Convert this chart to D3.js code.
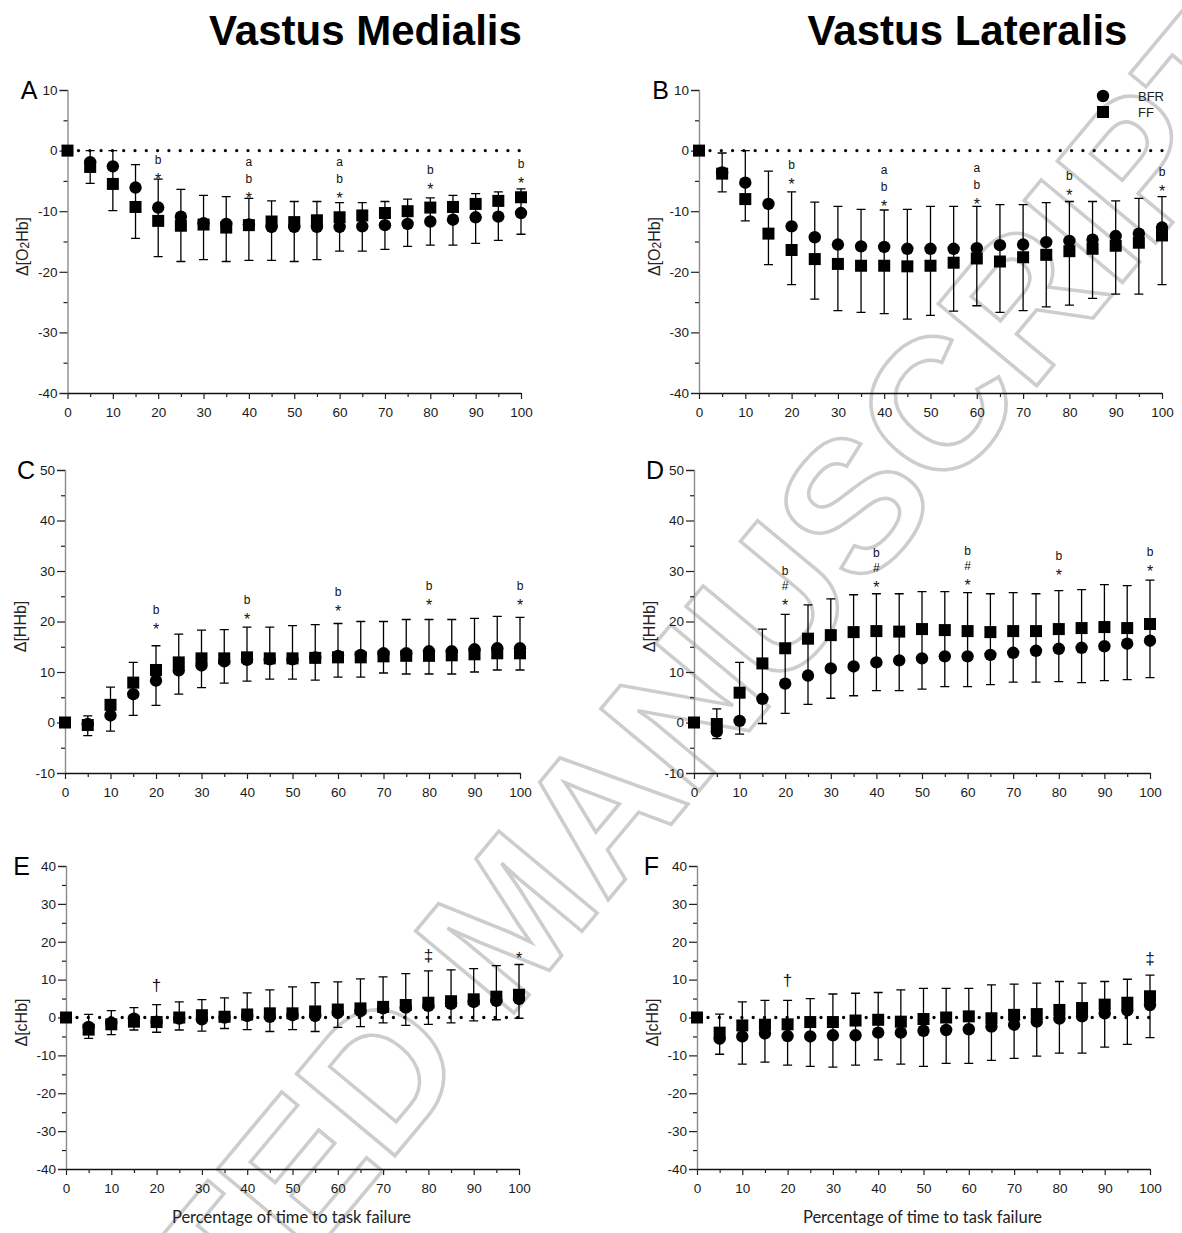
<!DOCTYPE html>
<html>
<head>
<meta charset="utf-8">
<script src="https://cdn.jsdelivr.net/npm/d3@7"></script>
<style>
  body { margin: 0; background: #fff; }
  text { font-family: "Liberation Sans", Arial, sans-serif; }
</style>
</head>
<body>
<svg id="chart" width="1182" height="1233"></svg>
<script>
// Percentage of time to task failure
const pct = [0, 5, 10, 15, 20, 25, 30, 35, 40, 45, 50, 55, 60, 65, 70, 75, 80, 85, 90, 95, 100];

// A - vastus medialis, O2Hb
const aBfr = [0, -1.9, -2.6, -6.1, -9.4, -10.9, -12.0, -12.1, -12.2, -12.6, -12.6, -12.6, -12.6, -12.5, -12.3, -12.1, -11.7, -11.4, -11.0, -10.9, -10.3];
const aFf = [0, -2.7, -5.5, -9.3, -11.6, -12.4, -12.2, -12.7, -12.3, -11.7, -11.8, -11.5, -11.0, -10.7, -10.3, -10.0, -9.4, -9.3, -8.8, -8.3, -7.7];
const aErrHi = [null, 0, 0, -2.3, -4.7, -6.4, -7.4, -7.6, -7.9, -8.3, -8.4, -8.4, -8.6, -8.6, -8.4, -8.0, -7.8, -7.4, -7.1, -6.8, -6.3];
const aErrLo = [null, -5.4, -9.9, -14.5, -17.5, -18.3, -18.0, -18.3, -18.1, -18.1, -18.3, -18.0, -16.6, -16.6, -16.3, -15.8, -15.6, -15.6, -15.3, -14.8, -13.8];
const aNotes = [
  { x: 20, y: -4.1, marks: ['*', 'b'] },
  { x: 40, y: -7.2, marks: ['*', 'b', 'a'] },
  { x: 60, y: -7.2, marks: ['*', 'b', 'a'] },
  { x: 80, y: -5.8, marks: ['*', 'b'] },
  { x: 100, y: -4.7, marks: ['*', 'b'] },
];

// B - vastus lateralis, O2Hb
const bBfr = [0, -3.6, -5.3, -8.8, -12.5, -14.3, -15.5, -15.8, -15.9, -16.2, -16.2, -16.2, -16.1, -15.6, -15.5, -15.1, -14.9, -14.7, -14.1, -13.7, -12.7];
const bFf = [0, -3.8, -8.0, -13.7, -16.4, -17.9, -18.7, -19.0, -19.0, -19.1, -19.0, -18.5, -17.8, -18.3, -17.6, -17.2, -16.6, -16.2, -15.7, -15.2, -14.0];
const bErrHi = [null, -0.4, 0, -3.4, -6.8, -8.5, -9.2, -9.7, -9.8, -9.7, -9.2, -9.2, -9.2, -8.9, -8.9, -8.6, -8.4, -8.4, -8.3, -7.9, -7.6];
const bErrLo = [null, -6.8, -11.6, -18.8, -22.1, -24.5, -26.4, -26.7, -26.9, -27.8, -27.2, -26.5, -25.6, -26.7, -26.4, -25.8, -25.5, -24.4, -23.7, -23.7, -22.1];
const bNotes = [
  { x: 20, y: -4.9, marks: ['*', 'b'] },
  { x: 40, y: -8.5, marks: ['*', 'b', 'a'] },
  { x: 60, y: -8.2, marks: ['*', 'b', 'a'] },
  { x: 80, y: -6.8, marks: ['*', 'b'] },
  { x: 100, y: -6.0, marks: ['*', 'b'] },
];

// C - vastus medialis, HHb
const cBfr = [0, -0.3, 1.4, 5.6, 8.3, 10.3, 11.3, 12.1, 12.4, 12.5, 12.5, 12.9, 13.2, 13.4, 13.7, 13.7, 14.1, 14.1, 14.5, 14.7, 14.7];
const cFf = [0, -0.5, 3.5, 7.9, 10.4, 11.9, 12.7, 12.7, 12.9, 12.7, 12.7, 12.8, 12.9, 12.9, 13.1, 13.2, 13.2, 13.3, 13.5, 13.7, 13.7];
const cErrHi = [null, 1.3, 7.0, 11.9, 15.2, 17.5, 18.3, 18.4, 18.9, 18.9, 19.2, 19.4, 19.6, 20.0, 20.0, 20.4, 20.4, 20.4, 20.6, 21.0, 20.8];
const cErrLo = [null, -2.6, -1.7, 1.4, 3.4, 5.6, 6.9, 7.8, 8.2, 8.6, 8.6, 8.4, 9.0, 9.0, 9.8, 9.6, 9.6, 9.6, 10.0, 10.4, 10.4];
const cNotes = [
  { x: 20, y: 19.2, marks: ['*', 'b'] },
  { x: 40, y: 21.2, marks: ['*', 'b'] },
  { x: 60, y: 22.7, marks: ['*', 'b'] },
  { x: 80, y: 23.9, marks: ['*', 'b'] },
  { x: 100, y: 23.9, marks: ['*', 'b'] },
];

// D - vastus lateralis, HHb
const dBfr = [0, -1.8, 0.3, 4.7, 7.7, 9.3, 10.7, 11.1, 11.9, 12.3, 12.7, 13.1, 13.1, 13.4, 13.8, 14.2, 14.6, 14.8, 15.1, 15.6, 16.2];
const dFf = [0, -0.3, 5.9, 11.7, 14.7, 16.6, 17.3, 17.9, 18.1, 18.0, 18.5, 18.3, 18.1, 17.9, 18.1, 18.1, 18.5, 18.7, 18.9, 18.7, 19.5];
const dErrHi = [null, 2.7, 11.9, 18.5, 21.4, 23.3, 24.5, 25.3, 25.5, 25.5, 25.9, 25.9, 25.7, 25.5, 25.7, 25.5, 26.1, 26.3, 27.3, 27.1, 28.2];
const dErrLo = [null, -3.2, -2.3, -0.2, 1.8, 3.6, 4.8, 5.3, 6.3, 6.3, 6.6, 7.1, 7.1, 7.5, 8.0, 8.0, 8.1, 7.9, 8.3, 8.5, 8.9];
const dNotes = [
  { x: 20, y: 23.9, marks: ['*', '#', 'b'] },
  { x: 40, y: 27.5, marks: ['*', '#', 'b'] },
  { x: 60, y: 27.9, marks: ['*', '#', 'b'] },
  { x: 80, y: 30.0, marks: ['*', 'b'] },
  { x: 100, y: 30.8, marks: ['*', 'b'] },
];

// E - vastus medialis, cHb
const eBfr = [0, -2.5, -1.4, -0.3, -1.1, -0.3, -0.5, 0.0, 0.4, 0.2, 0.6, 0.4, 1.2, 1.7, 2.4, 2.6, 3.1, 3.6, 4.1, 4.4, 4.9];
const eFf = [0, -3.2, -1.8, -1.1, -1.2, 0.0, 0.6, 0.2, 0.8, 1.1, 1.1, 1.6, 2.1, 2.4, 2.8, 3.3, 3.9, 4.3, 4.8, 5.5, 6.0];
const eErrHi = [null, 0.8, 1.8, 2.6, 3.4, 4.1, 4.7, 5.2, 6.5, 7.3, 8.1, 9.2, 9.4, 10.2, 10.7, 11.6, 12.3, 12.6, 12.9, 13.7, 14.0];
const eErrLo = [null, -5.5, -4.5, -3.3, -3.9, -3.3, -3.6, -2.9, -3.2, -3.7, -3.2, -3.7, -2.6, -2.4, -1.4, -2.1, -1.8, -1.4, -0.9, -0.6, -0.2];
const eNotes = [
  { x: 20, y: 8.4, marks: ['†'] },
  { x: 80, y: 16.3, marks: ['‡'] },
  { x: 100, y: 16.7, marks: ['*'] },
];

// F - vastus lateralis, cHb
const fBfr = [0, -5.6, -5.0, -4.2, -4.9, -5.0, -4.7, -4.7, -4.0, -4.0, -3.5, -3.3, -3.1, -2.4, -1.9, -1.1, -0.3, 0.3, 1.1, 1.9, 3.3];
const fFf = [0, -4.0, -2.1, -1.9, -1.8, -1.2, -1.2, -0.8, -0.6, -1.1, -0.4, 0.0, 0.3, -0.2, 0.7, 0.9, 2.0, 2.5, 3.4, 3.9, 5.6];
const fErrHi = [null, 0.9, 4.1, 4.5, 4.5, 5.0, 6.2, 6.4, 6.6, 7.3, 7.7, 7.7, 7.7, 8.6, 8.8, 9.1, 9.5, 9.1, 9.5, 10.1, 11.2];
const fErrLo = [null, -9.7, -12.3, -11.8, -12.6, -12.9, -13.1, -12.6, -11.2, -12.3, -12.9, -12.1, -12.1, -11.3, -10.8, -10.2, -9.4, -9.4, -7.8, -7.1, -5.3];
const fNotes = [
  { x: 20, y: 9.7, marks: ['†'] },
  { x: 100, y: 15.5, marks: ['‡'] },
];

const columnTitles = ['Vastus Medialis', 'Vastus Lateralis'];
const xTitle = 'Percentage of time to task failure';
const legendItems = ['BFR', 'FF'];

// Layout
const MARKER_R = 6.2;
const SQUARE = 12;
const CAP = 4.5;
const NOTE_STEP = 15.7;

const panels = [
  { letter: 'A', bfr: aBfr, ff: aFf, hi: aErrHi, lo: aErrLo, notes: aNotes, yLabel: ['Δ[O', '2', 'Hb]'],
    yDomain: [-40, 10], x0: 67.5, x1: 521, yTop: 90, yBottom: 393, zero: true, letterGap: 30 },
  { letter: 'B', bfr: bBfr, ff: bFf, hi: bErrHi, lo: bErrLo, notes: bNotes, yLabel: ['Δ[O', '2', 'Hb]'],
    yDomain: [-40, 10], x0: 699, x1: 1162, yTop: 90, yBottom: 393, zero: true, letterGap: 30, legend: true },
  { letter: 'C', bfr: cBfr, ff: cFf, hi: cErrHi, lo: cErrLo, notes: cNotes, yLabel: ['Δ[HHb]'],
    yDomain: [-10, 50], x0: 65, x1: 520, yTop: 470, yBottom: 773, zero: false, letterGap: 30 },
  { letter: 'D', bfr: dBfr, ff: dFf, hi: dErrHi, lo: dErrLo, notes: dNotes, yLabel: ['Δ[HHb]'],
    yDomain: [-10, 50], x0: 694, x1: 1150, yTop: 470, yBottom: 773, zero: false, letterGap: 30 },
  { letter: 'E', bfr: eBfr, ff: eFf, hi: eErrHi, lo: eErrLo, notes: eNotes, yLabel: ['Δ[cHb]'],
    yDomain: [-40, 40], x0: 66, x1: 519, yTop: 866, yBottom: 1169, zero: true, letterGap: 36, xTitle: true },
  { letter: 'F', bfr: fBfr, ff: fFf, hi: fErrHi, lo: fErrLo, notes: fNotes, yLabel: ['Δ[cHb]'],
    yDomain: [-40, 40], x0: 697, x1: 1150, yTop: 866, yBottom: 1169, zero: true, letterGap: 38, xTitle: true },
];

const svg = d3.select('#chart');

// faint "accepted manuscript" stamp behind everything
svg.append('text')
  .attr('transform', 'translate(559, 959) rotate(-50.2)')
  .attr('text-anchor', 'middle')
  .attr('font-size', 186)
  .attr('font-weight', 'bold')
  .attr('fill', 'none')
  .attr('stroke', '#cdcdcd')
  .attr('stroke-width', 3.5)
  .text('ACCEPTED MANUSCRIPT');

// column titles
svg.selectAll('text.col-title')
  .data(columnTitles)
  .enter()
  .append('text')
  .attr('class', 'col-title')
  .attr('x', (d, i) => (i === 0 ? 365.5 : 967.5))
  .attr('y', 45)
  .attr('text-anchor', 'middle')
  .attr('font-size', 42)
  .attr('font-weight', 'bold')
  .text(d => d);

const noteShift = { '*': 0.6, 'b': 0.36, 'a': 0.26, '#': 0.36, '†': 0.3, '‡': 0.3 };
const noteSize = { '*': 16, 'b': 12, 'a': 12, '#': 12, '†': 17, '‡': 17 };

const drawPanel = (p) => {
  const sx = d3.scaleLinear().domain([0, 100]).range([p.x0, p.x1]);
  const sy = d3.scaleLinear().domain(p.yDomain).range([p.yBottom, p.yTop]);
  const g = svg.append('g');

  const majorY = d3.range(p.yDomain[0], p.yDomain[1] + 1, 10);
  const minorY = d3.range(p.yDomain[0] + 5, p.yDomain[1], 10);
  const majorX = d3.range(0, 101, 10);
  const minorX = d3.range(5, 100, 10);

  // y axis
  const yAxis = g.append('g')
    .attr('transform', `translate(${p.x0}, 0)`)
    .call(d3.axisLeft(sy).tickValues(majorY).tickSize(8).tickPadding(2).tickFormat(d => String(d)));
  yAxis.select('.domain').attr('stroke', '#8c8c8c').attr('stroke-width', 1.4);
  g.append('g')
    .attr('transform', `translate(${p.x0}, 0)`)
    .call(d3.axisLeft(sy).tickValues(minorY).tickSize(4).tickFormat(''))
    .select('.domain').remove();

  // x axis
  const xAxis = g.append('g')
    .attr('transform', `translate(0, ${p.yBottom})`)
    .call(d3.axisBottom(sx).tickValues(majorX).tickSize(6).tickPadding(8).tickSizeOuter(0));
  xAxis.select('.domain').attr('stroke', '#111').attr('stroke-width', 1.3);
  g.append('g')
    .attr('transform', `translate(0, ${p.yBottom})`)
    .call(d3.axisBottom(sx).tickValues(minorX).tickSize(4).tickFormat(''))
    .select('.domain').remove();

  g.selectAll('.tick line').attr('stroke', '#222').attr('stroke-width', 1.2);
  g.selectAll('.tick text')
    .attr('font-size', 13.5)
    .attr('fill', '#1a1a1a')
    .style('font-family', '"Liberation Sans", Arial, sans-serif');

  // panel letter
  g.append('text')
    .attr('x', p.x0 - p.letterGap)
    .attr('y', p.yTop + 8.5)
    .attr('text-anchor', 'end')
    .attr('font-size', 25)
    .text(p.letter);

  // y label
  const yl = g.append('text')
    .attr('transform', `translate(${p.x0 - 45}, ${(p.yTop + p.yBottom) / 2 + 5}) rotate(-90)`)
    .attr('text-anchor', 'middle')
    .attr('dy', '0.35em')
    .attr('font-size', 16)
    .attr('fill', '#222');
  p.yLabel.forEach((part, i) => {
    const t = yl.append('tspan').text(part);
    if (part === '2') t.attr('font-size', 12).attr('dy', 1);
    else if (i > 0) t.attr('dy', -1);
  });

  // dotted zero line
  if (p.zero) {
    g.append('line')
      .attr('x1', sx(0) + 11)
      .attr('x2', sx(100))
      .attr('y1', sy(0))
      .attr('y2', sy(0))
      .attr('stroke', '#000')
      .attr('stroke-width', 3.3)
      .attr('stroke-linecap', 'round')
      .attr('stroke-dasharray', '0 11.3');
  }

  // error bars
  const bars = pct.map((x, i) => ({ x, hi: p.hi[i], lo: p.lo[i] })).filter(d => d.hi !== null);
  g.append('g')
    .selectAll('path')
    .data(bars)
    .enter()
    .append('path')
    .attr('d', d => {
      const cx = sx(d.x);
      const yh = sy(d.hi);
      const yl2 = sy(d.lo);
      return `M${cx},${yh}V${yl2}M${cx - CAP},${yh}H${cx + CAP}M${cx - CAP},${yl2}H${cx + CAP}`;
    })
    .attr('fill', 'none')
    .attr('stroke', '#000')
    .attr('stroke-width', 1.3);

  // FF squares
  g.append('g')
    .selectAll('rect')
    .data(pct.map((x, i) => ({ x, v: p.ff[i] })))
    .enter()
    .append('rect')
    .attr('x', d => sx(d.x) - SQUARE / 2)
    .attr('y', d => sy(d.v) - SQUARE / 2)
    .attr('width', SQUARE)
    .attr('height', SQUARE)
    .attr('fill', '#000');

  // BFR circles
  g.append('g')
    .selectAll('circle')
    .data(pct.map((x, i) => ({ x, v: p.bfr[i] })).filter(d => d.x > 0))
    .enter()
    .append('circle')
    .attr('cx', d => sx(d.x))
    .attr('cy', d => sy(d.v))
    .attr('r', MARKER_R)
    .attr('fill', '#000');

  // significance marks, stacked upward from the lowest one
  p.notes.forEach(n => {
    n.marks.forEach((m, k) => {
      const cy = sy(n.y) - k * NOTE_STEP;
      g.append('text')
        .attr('x', sx(n.x))
        .attr('y', cy + noteShift[m] * noteSize[m])
        .attr('text-anchor', 'middle')
        .attr('font-size', noteSize[m])
        .attr('fill', '#111')
        .text(m);
    });
  });

  if (p.legend) {
    const lg = g.append('g');
    lg.append('circle').attr('cx', 1103).attr('cy', 96).attr('r', MARKER_R).attr('fill', '#000');
    lg.append('rect').attr('x', 1103 - SQUARE / 2).attr('y', 112 - SQUARE / 2)
      .attr('width', SQUARE).attr('height', SQUARE).attr('fill', '#000');
    lg.selectAll('text.leg')
      .data(legendItems)
      .enter()
      .append('text')
      .attr('class', 'leg')
      .attr('x', 1138)
      .attr('y', (d, i) => 96 + i * 16 + 4.5)
      .attr('font-size', 13)
      .attr('fill', '#222')
      .text(d => d);
  }

  if (p.xTitle) {
    g.append('text')
      .attr('x', (p.x0 + p.x1) / 2 - 1)
      .attr('y', 1223)
      .attr('text-anchor', 'middle')
      .attr('font-size', 16.5)
      .attr('fill', '#222')
      .style('font-family', 'Lato, "Open Sans", sans-serif')
      .text(xTitle);
  }
};

panels.forEach(drawPanel);
</script>
</body>
</html>
